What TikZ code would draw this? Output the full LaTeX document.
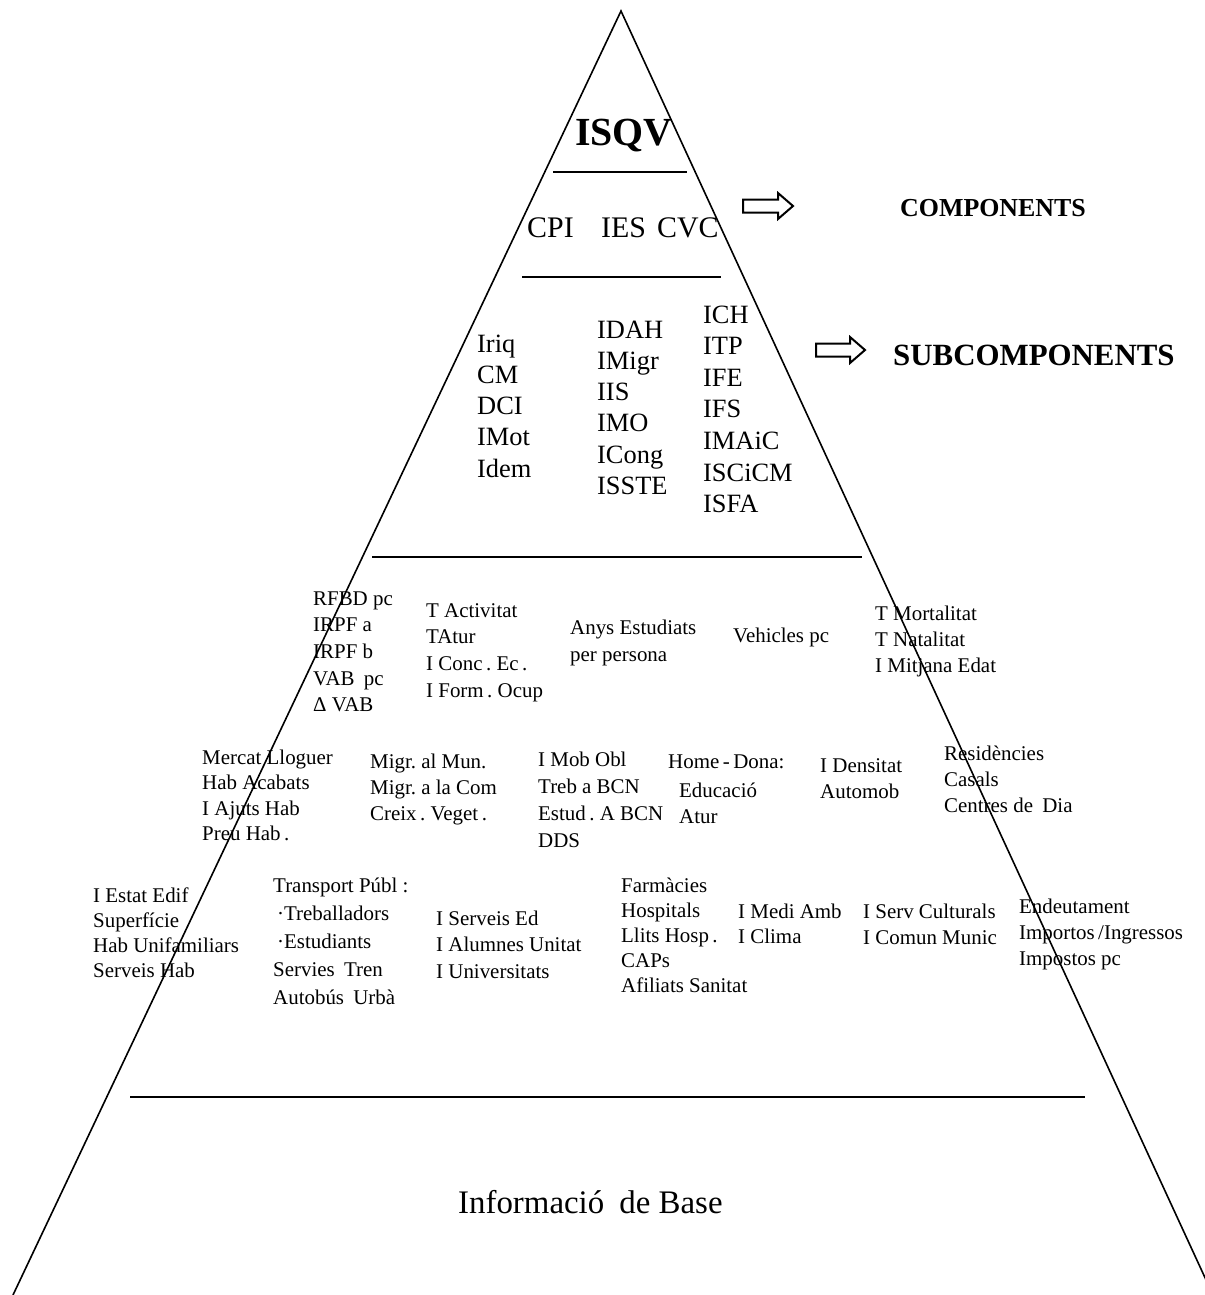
\documentclass[tikz,border=0pt]{standalone}
\usepackage{fontspec}
\setmainfont{Liberation Serif}
\frenchspacing
\newcommand\tgrp[6]{% name, style, x, y0, dy, list
  \foreach \tx [count=\nn] in {#6}{\node[#2] (#1-\nn) at (#3,{#4+(\nn-1)*(#5)}) {\tx};}}
\tikzset{
  edge/.style={line width=1.6bp},
  lbl/.style={inner sep=0pt, anchor=base west, font=\fontsize{21}{21}\selectfont},
  sub/.style={inner sep=0pt, anchor=base west, font=\fontsize{26.5}{26.5}\selectfont},
  blockarrow/.style={line width=2bp, fill=white, line join=miter},
}
\begin{document}
\begin{tikzpicture}[x=1bp, y=-1bp]
\useasboundingbox (0,0) rectangle (1205,1295);
% triangle
\coordinate (apex) at (621,11);
\coordinate (bl) at (13,1295);
\coordinate (br) at (1213,1295);
\draw[edge] (bl) -- (apex) -- (br);
% dividers
\draw[edge] (553,172) coordinate (d1a) -- (687,172) coordinate (d1b);
\draw[edge] (522,277) coordinate (d2a) -- (721,277) coordinate (d2b);
\draw[edge] (372,557) coordinate (d3a) -- (862,557) coordinate (d3b);
\draw[edge] (130,1097) coordinate (d4a) -- (1085,1097) coordinate (d4b);
% top
\node[inner sep=0pt, anchor=base west, font=\fontsize{40}{40}\selectfont\bfseries] (isqv) at (575,145) {ISQV};
\node[inner sep=0pt, anchor=base west, font=\fontsize{30}{30}\selectfont] (cpi) at (527,237) {CPI};
\node[inner sep=0pt, anchor=base west, font=\fontsize{30}{30}\selectfont] (ies) at (601,237) {IES};
\node[inner sep=0pt, anchor=base west, font=\fontsize{30}{30}\selectfont] (cvc) at (657,237) {CVC};
% arrows and labels
\draw[blockarrow] (743,199.5) -- (778,199.5) -- (778,193) -- (793,206) -- (778,219) -- (778,212.5) -- (743,212.5) -- cycle;
\node[inner sep=0pt, anchor=base west, font=\fontsize{26}{26}\selectfont\bfseries] (comp) at (900,216) {COMPONENTS};
\draw[blockarrow] (816,343.5) -- (850,343.5) -- (850,337) -- (865,350) -- (850,363) -- (850,356.5) -- (816,356.5) -- cycle;
\node[inner sep=0pt, anchor=base west, font=\fontsize{31}{31}\selectfont\bfseries] (subcomp) at (893,365) {SUBCOMPONENTS};
% subcomponents
\tgrp{sa}{sub}{477}{352}{31.3}{Iriq,CM,DCI,IMot,Idem}
\tgrp{sb}{sub}{597}{338}{31.3}{IDAH,IMigr,IIS,IMO,ICong,ISSTE}
\tgrp{sc}{sub}{703}{323}{31.6}{ICH,ITP,IFE,IFS,IMAiC,ISCiCM,ISFA}
% row 1
\tgrp{ra}{lbl}{313}{605}{26.7}{RFBD pc,IRPF a,IRPF b,VAB\hspace{4bp} pc,Δ VAB}
\tgrp{rb}{lbl}{426}{617}{26.7}{T Activitat,TAtur,I Conc\,. Ec\,.,I Form\,. Ocup}
\tgrp{rc}{lbl}{570}{634}{27}{Anys Estudiats,per persona}
\tgrp{rd}{lbl}{733}{642}{26}{Vehicles pc}
\tgrp{re}{lbl}{875}{620}{26}{T Mortalitat,T Natalitat,I Mitjana Edat}
% row 2
\tgrp{qa}{lbl}{202}{764}{25.5}{Mercat Lloguer,Hab Acabats,I Ajuts Hab,Preu Hab\,.}
\tgrp{qb}{lbl}{370}{768}{26}{Migr. al Mun.,Migr. a la Com,Creix\,. Veget\,.}
\tgrp{qc}{lbl}{538}{766}{27.3}{I Mob Obl,Treb a BCN,Estud\,. A BCN,DDS}
\tgrp{qd}{lbl}{668}{768}{26}{Home\,-\,Dona:}
\tgrp{qe}{lbl}{679}{797}{26}{Educació,Atur}
\tgrp{qf}{lbl}{820}{772}{26}{I Densitat,Automob}
\tgrp{qg}{lbl}{944}{760}{26}{Residències,Casals,Centres de\hspace{4bp} Dia}
% row 3
\tgrp{pa}{lbl}{93}{902}{25.3}{I Estat Edif,Superfície,Hab Unifamiliars,Serveis Hab}
\tgrp{pb}{lbl}{273}{892}{28}{Transport Públ :,\hspace{4bp}·Treballadors,\hspace{4bp}·Estudiants,Servies\hspace{4bp} Tren,Autobús\hspace{4bp} Urbà}
\tgrp{pc}{lbl}{436}{925}{26.5}{I Serveis Ed,I Alumnes Unitat,I Universitats}
\tgrp{pd}{lbl}{621}{892}{25}{Farmàcies,Hospitals,Llits Hosp\,.,CAPs,Afiliats Sanitat}
\tgrp{pe}{lbl}{738}{918}{25.5}{I Medi Amb,I Clima}
\tgrp{pf}{lbl}{863}{918}{26}{I Serv Culturals,I Comun Munic}
\tgrp{pg}{lbl}{1019}{913}{26}{Endeutament,Importos\,/Ingressos,Impostos pc}
% base
\node[inner sep=0pt, anchor=base west, font=\fontsize{33}{33}\selectfont] (base) at (458,1213) {Informació\hspace{7bp} de Base};
\end{tikzpicture}
\end{document}
